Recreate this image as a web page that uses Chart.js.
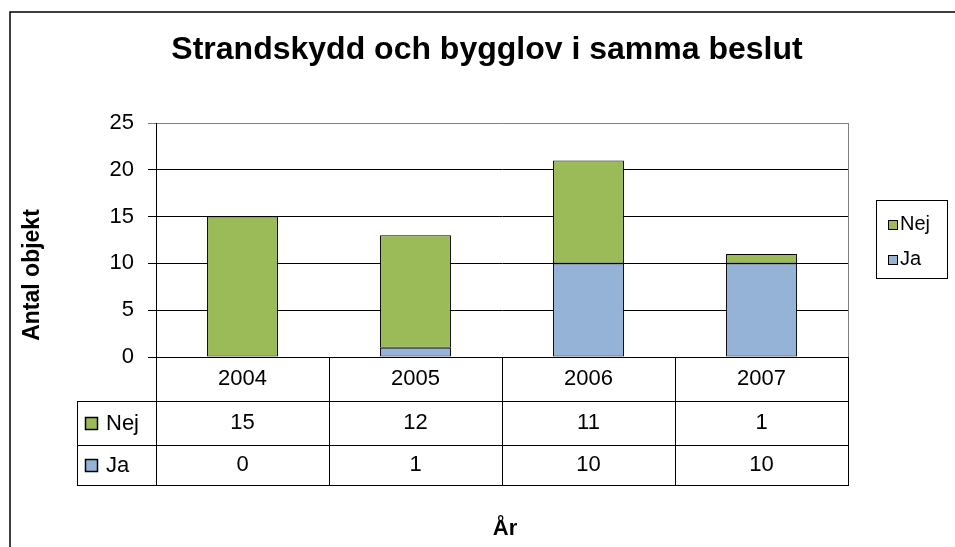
<!DOCTYPE html>
<html>
<head>
<meta charset="utf-8">
<script src="https://cdn.jsdelivr.net/npm/chart.js@4"></script>
<style>
html,body{margin:0;padding:0;background:#fff;}
canvas{display:block;}
</style>
</head>
<body>
<canvas id="c" width="955" height="547"></canvas>
<script>
const years = ['2004', '2005', '2006', '2007'];
const nejValues = [15, 12, 11, 1];
const jaValues = [0, 1, 10, 10];
const seriesNames = ['Nej', 'Ja'];
const yMin = 0, yMax = 25, yStep = 5;
const titleText = 'Strandskydd och bygglov i samma beslut';
const yTitle = 'Antal objekt';
const xTitle = 'År';

const FONT = '"Liberation Sans", Arial, sans-serif';
const GREEN = '#9BBB59';
const BLUE = '#95B3D7';
const FS = 22;

const decor = {
  id: 'decor',
  afterDraw(chart) {
    const ctx = chart.ctx;
    const a = chart.chartArea;
    const xs = chart.scales.x;
    ctx.save();
    // outer frame (extends beyond the right / bottom edges)
    ctx.strokeStyle = '#000';
    ctx.lineWidth = 1.5;
    ctx.strokeRect(10, 12, 1000, 600);
    // title
    ctx.fillStyle = '#000';
    ctx.textAlign = 'center';
    ctx.textBaseline = 'middle';
    ctx.font = 'bold 32px ' + FONT;
    ctx.fillText(titleText, 487, 50);
    // y title
    ctx.save();
    ctx.translate(33, 275);
    ctx.rotate(-Math.PI / 2);
    ctx.font = 'bold 23px ' + FONT;
    ctx.fillText(yTitle, 0, 0);
    ctx.restore();
    // x title
    ctx.font = 'bold 22px ' + FONT;
    ctx.fillText(xTitle, 505, 529);
    // plot right border
    ctx.strokeStyle = '#808080';
    ctx.lineWidth = 1;
    ctx.beginPath();
    ctx.moveTo(Math.round(a.right) + 0.5, a.top);
    ctx.lineTo(Math.round(a.right) + 0.5, a.bottom);
    ctx.stroke();

    // data table
    const colW = (a.right - a.left) / years.length;
    const r0 = a.bottom, r1 = a.bottom + 44, r2 = a.bottom + 88, r3 = a.bottom + 128;
    const tLeft = 77;
    ctx.strokeStyle = '#000';
    ctx.lineWidth = 1;
    ctx.beginPath();
    [r1, r2, r3].forEach(y => { ctx.moveTo(tLeft, y + 0.5); ctx.lineTo(a.right + 1, y + 0.5); });
    ctx.moveTo(tLeft + 0.5, r1); ctx.lineTo(tLeft + 0.5, r3 + 1);
    for (let i = 0; i <= years.length; i++) {
      const x = Math.round(a.left + i * colW) + 0.5;
      ctx.moveTo(x, r0); ctx.lineTo(x, r3 + 1);
    }
    ctx.stroke();
    ctx.font = FS + 'px ' + FONT;
    ctx.fillStyle = '#000';
    ctx.textAlign = 'center';
    years.forEach((yr, i) => {
      const cx = xs.getPixelForValue(i);
      ctx.fillText(yr, cx, (r0 + r1) / 2);
      ctx.fillText(String(nejValues[i]), cx, (r1 + r2) / 2);
      ctx.fillText(String(jaValues[i]), cx, (r2 + r3) / 2);
    });
    // row headers
    const rows = [[seriesNames[0], GREEN, (r1 + r2) / 2], [seriesNames[1], BLUE, (r2 + r3) / 2]];
    ctx.textAlign = 'left';
    rows.forEach(([name, col, cy]) => {
      ctx.fillStyle = col;
      ctx.fillRect(85, cy - 6, 13, 13);
      ctx.strokeStyle = '#000';
      ctx.lineWidth = 1.5;
      ctx.strokeRect(85.5, cy - 5.5, 12, 12);
      ctx.fillStyle = '#000';
      ctx.fillText(name, 106, cy + 1);
    });

    // legend
    ctx.lineWidth = 1;
    ctx.strokeStyle = '#000';
    ctx.strokeRect(876.5, 200.5, 71, 78);
    const legRows = [[seriesNames[0], GREEN, 224], [seriesNames[1], BLUE, 259]];
    legRows.forEach(([name, col, cy]) => {
      ctx.fillStyle = col;
      ctx.fillRect(888, cy - 4, 10, 10);
      ctx.strokeRect(888.5, cy - 3.5, 9, 9);
      ctx.fillStyle = '#000';
      ctx.font = '20px ' + FONT;
      ctx.fillText(name, 900, cy);
    });
    ctx.restore();
  }
};

new Chart(document.getElementById('c'), {
  type: 'bar',
  data: {
    labels: years,
    datasets: [
      { label: seriesNames[1], data: jaValues, backgroundColor: BLUE, borderColor: '#000', borderWidth: 1, borderSkipped: false },
      { label: seriesNames[0], data: nejValues, backgroundColor: GREEN, borderColor: '#000', borderWidth: 1, borderSkipped: false }
    ]
  },
  options: {
    responsive: false,
    animation: false,
    layout: { padding: { left: 0, top: 123, right: 107, bottom: 190 } },
    plugins: { legend: { display: false }, tooltip: { enabled: false }, title: { display: false } },
    datasets: { bar: { barPercentage: 0.41, categoryPercentage: 1 } },
    scales: {
      x: {
        stacked: true,
        display: false
      },
      y: {
        stacked: true,
        min: yMin, max: yMax,
        ticks: { stepSize: yStep, color: '#000', font: { family: FONT, size: FS }, padding: 14 },
        grid: {
          color: ctx => (ctx.tick && ctx.tick.value === yMax) ? '#808080' : '#000',
          tickLength: 8,
          lineWidth: 1
        },
        border: { display: true, color: '#000', width: 1 },
        afterFit: s => { s.width = 156; }
      }
    }
  },
  plugins: [decor]
});
</script>
</body>
</html>
